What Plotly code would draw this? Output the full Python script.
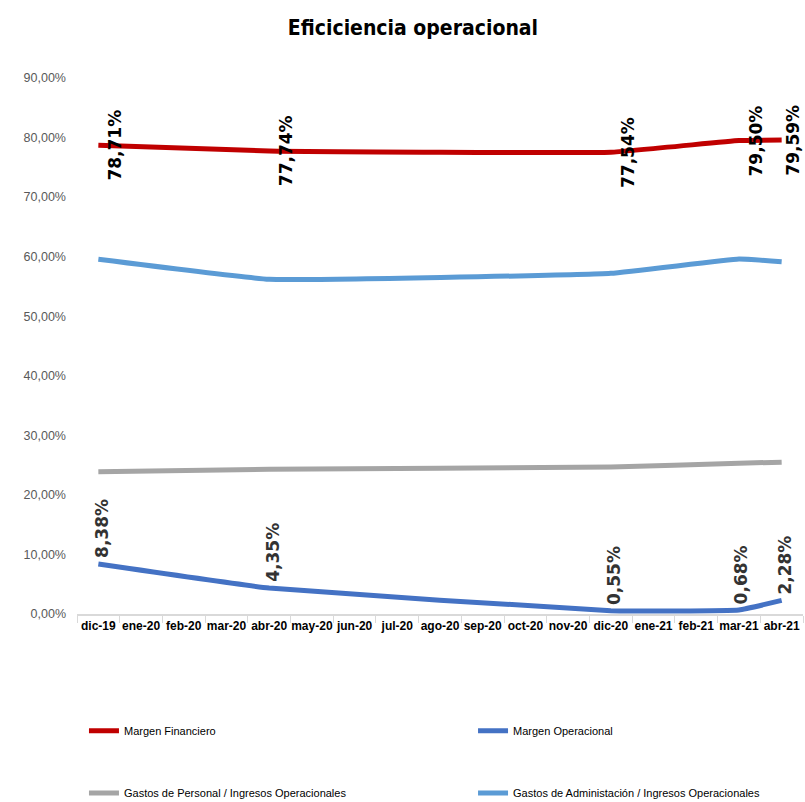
import plotly.graph_objects as go

# Monthly categories on the x axis
months = ["dic-19", "ene-20", "feb-20", "mar-20", "abr-20", "may-20", "jun-20",
          "jul-20", "ago-20", "sep-20", "oct-20", "nov-20", "dic-20", "ene-21",
          "feb-21", "mar-21", "abr-21"]

# Ratios (%) reported only on some months; others are gaps
margen_financiero = [78.71, None, None, None, 77.74, None, None, None, None,
                     None, None, None, 77.54, None, None, 79.50, 79.59]
margen_operacional = [8.38, None, None, None, 4.35, None, None, None, None,
                      None, None, None, 0.55, None, None, 0.68, 2.28]
gastos_personal = [23.9, None, None, None, 24.3, None, None, None, None,
                   None, None, None, 24.7, None, None, 25.3, 25.5]
gastos_admin = [59.55, None, None, None, 56.2, None, None, None, None,
                None, None, None, 57.2, None, None, 59.6, 59.15]

y_ticks = [0, 10, 20, 30, 40, 50, 60, 70, 80, 90]

NARROW = "'Liberation Sans Narrow', 'Liberation Sans', Arial, sans-serif"

# name, values, colour, legend id
series = [
    ("Margen Financiero", margen_financiero, "#C00000", "legend"),
    ("Margen Operacional", margen_operacional, "#4472C4", "legend2"),
    ("Gastos de Personal / Ingresos Operacionales", gastos_personal, "#A5A5A5", "legend3"),
    ("Gastos de Administación / Ingresos Operacionales", gastos_admin, "#5B9BD5", "legend4"),
]


def fmt(v):
    return f"{v:.2f}".replace(".", ",") + "%"


fig = go.Figure()
for name, vals, color, leg in series:
    fig.add_trace(go.Scatter(
        x=months, y=vals, name=name, mode="lines", connectgaps=True,
        line=dict(color=color, width=5, shape="spline", smoothing=0.3),
        legend=leg, showlegend=True, hoverinfo="skip",
    ))

annotations = []
# Rotated value labels for the two margin series
last = len(months) - 1
for i, (m, v) in enumerate(zip(months, margen_financiero)):
    if v is None:
        continue
    annotations.append(dict(
        x=m, y=v, xref="x", yref="y", text=fmt(v), showarrow=False,
        textangle=-90, xanchor="center", yanchor="middle",
        xshift=11 if i == last else 17,
        font=dict(family="DejaVu Sans", size=17, color="#000000", weight="bold"),
    ))
for m, v in zip(months, margen_operacional):
    if v is None:
        continue
    annotations.append(dict(
        x=m, y=v, xref="x", yref="y", text=fmt(v), showarrow=False,
        textangle=-90, xanchor="center", yanchor="bottom", xshift=3, yshift=4,
        font=dict(family="DejaVu Sans", size=17, color="#333333", weight="bold"),
    ))

# Four single-entry legends laid out as a 2x2 grid below the plot
legend_style = dict(
    orientation="h", xref="paper", yref="paper", xanchor="left", yanchor="middle",
    font=dict(family=NARROW, size=11, color="#000000"),
    bgcolor="rgba(0,0,0,0)", itemwidth=30,
)
col_x = [0.0096, 0.5455]
row_y = [-0.218, -0.334]

fig.update_layout(
    width=805, height=802,
    showlegend=True,
    margin=dict(l=77, r=2, t=78, b=188, autoexpand=False),
    paper_bgcolor="white", plot_bgcolor="white",
    title=dict(
        text="Eficiciencia operacional", x=0.513, xanchor="center",
        y=0.965, yanchor="middle",
        font=dict(family="DejaVu Sans Condensed", size=21, color="#000000", weight="bold"),
    ),
    xaxis=dict(
        type="category", categoryorder="array", categoryarray=months,
        range=[-0.5, len(months) - 0.5],
        showline=True, linecolor="#D9D9D9", linewidth=1.5,
        ticks="outside", tickson="boundaries", ticklen=7, tickcolor="#D9D9D9",
        showgrid=False, zeroline=False, tickangle=0,
        tickfont=dict(family=NARROW, size=12, color="#000000", weight="bold"),
    ),
    yaxis=dict(
        range=[0, 90], tickvals=y_ticks, ticktext=[fmt(v) for v in y_ticks],
        showgrid=False, zeroline=False, showline=False, ticklabelstandoff=10,
        tickfont=dict(family=NARROW, size=12.5, color="#595959"),
    ),
    legend=dict(legend_style, x=col_x[0], y=row_y[0]),
    legend2=dict(legend_style, x=col_x[1], y=row_y[0]),
    legend3=dict(legend_style, x=col_x[0], y=row_y[1]),
    legend4=dict(legend_style, x=col_x[1], y=row_y[1]),
    annotations=annotations,
)

fig.write_html("out.html")
